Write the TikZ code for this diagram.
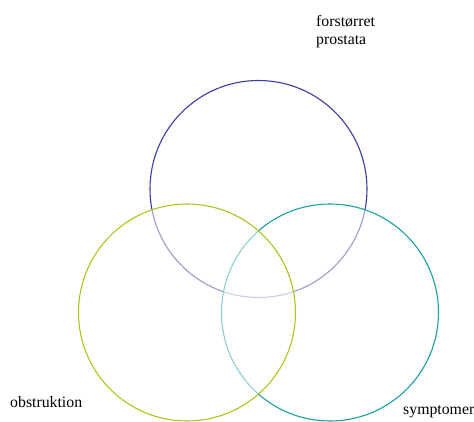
\documentclass[tikz,border=0pt]{standalone}
\usepackage{fontspec}
\setmainfont{Liberation Serif}
\begin{document}
\begin{tikzpicture}[x=1pt,y=-1pt,
  ring/.style={line width=1.1pt, fill=white, fill opacity=0.5, draw opacity=1},
  lbl/.style={font=\fontsize{15.8}{17.2}\selectfont, inner sep=0pt, align=left}]
\useasboundingbox (0,0) rectangle (474,421);
\definecolor{cblue}{RGB}{58,58,160}
\definecolor{cgreen}{RGB}{166,200,30}
\definecolor{cteal}{RGB}{28,160,160}
\draw[ring, draw=cblue] (258.5,189) circle[radius=108.5] node (top) {};
\draw[ring, draw=cteal] (330,312.5) circle[radius=108.5] node (right) {};
\draw[ring, draw=cgreen] (187,312.5) circle[radius=108.5] node (left) {};
\node[lbl, anchor=base west] (ltop) at (316,44) {forstørret\\prostata};
\node[lbl, anchor=base west] (lleft) at (10,407) {obstruktion};
\node[lbl, anchor=base west] (lright) at (403,414) {symptomer};
\end{tikzpicture}
\end{document}
